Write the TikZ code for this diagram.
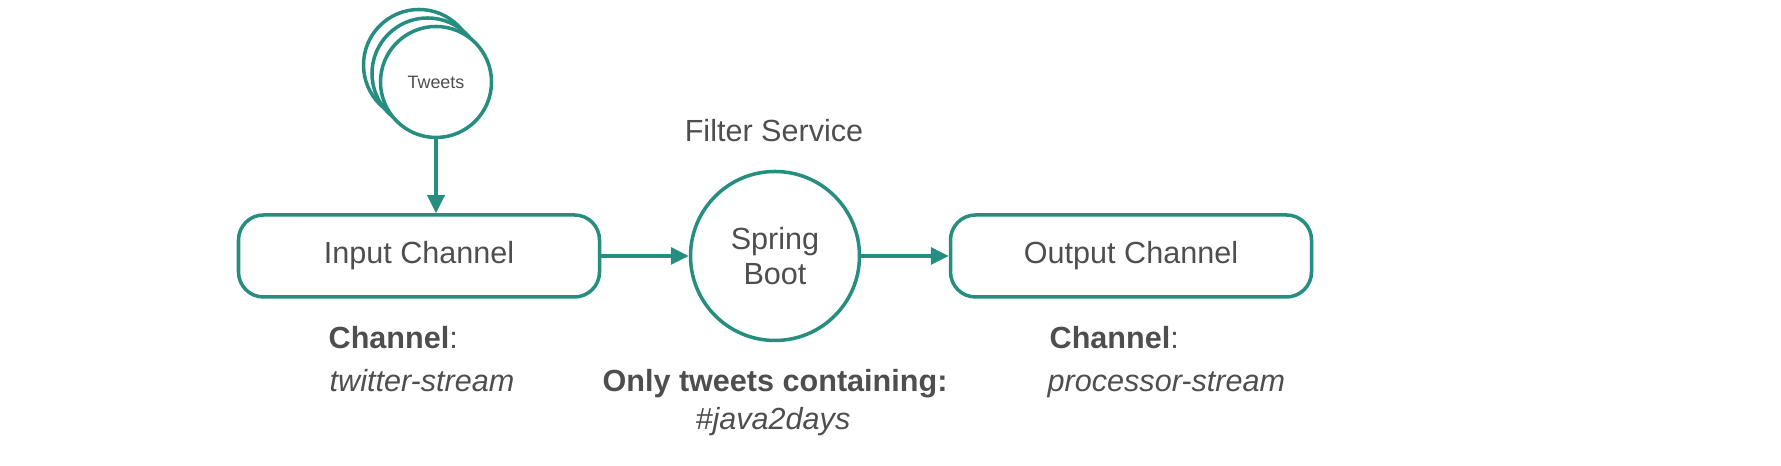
\documentclass[tikz,border=0pt]{standalone}
\usepackage{fontspec}
\setmainfont{Liberation Sans}
\usetikzlibrary{arrows.meta}
\definecolor{T}{RGB}{38, 142, 128}
\definecolor{Gr}{RGB}{78, 78, 78}

\begin{document}
\begin{tikzpicture}[
   caja/.style={draw=T, line width=1pt, rounded corners=0.25cm, minimum width=3.61cm, minimum height=0.82cm, text=Gr, font=\fontsize{8.7}{10}\selectfont},
   bola/.style={circle, draw=T, line width=1pt, fill=white, inner sep=0pt, text=Gr},
   flecha/.style={draw=T, line width=1pt, -{Triangle[length=0.18cm, width=0.17cm]}},
   texto/.style={text=Gr, inner sep=0pt, font=\fontsize{8.7}{10}\selectfont}
]
   	\useasboundingbox (0,0) rectangle (17.81,4.66);

	%Los tweets (tres circulos, el de adelante al final)
   	\node[bola, minimum size=1.11cm] (tw3) at (4.19,4.01) {};
   	\node[bola, minimum size=1.11cm] (tw2) at (4.275,3.925) {};
   	\node[bola, minimum size=1.11cm, font=\fontsize{5.1}{6}\selectfont] (tw1) at (4.36,3.84) {Tweets};

	%Canal de entrada
   	\node[caja] (entrada) at (4.19,2.10) {Input Channel};

	%Servicio de filtro
   	\node[bola, minimum size=1.69cm, align=center, font=\fontsize{8.7}{10}\selectfont] (spring) at (7.75,2.10) {Spring\\Boot};
   	\node[texto, anchor=base] (filtro) at (7.74,3.24) {Filter Service};

	%Canal de salida
   	\node[caja] (salida) at (11.31,2.10) {Output Channel};

	%Flechas
   	\draw[flecha] (tw1.south) -- (tw1.south |- entrada.north);
   	\draw[flecha] (entrada.east) -- (spring.west);
   	\draw[flecha] (spring.east) -- (salida.west);

	%Etiquetas de abajo
   	\node[texto, anchor=base west] (canalA) at (3.28,1.17) {\textbf{Channel}:};
   	\node[texto, anchor=base west] (nomA) at (3.29,0.74) {\textit{twitter-stream}};
   	\node[texto, anchor=base] (solo) at (7.75,0.74) {\textbf{Only tweets containing:}};
   	\node[texto, anchor=base] (hash) at (7.73,0.36) {\textit{\#java2days}};
   	\node[texto, anchor=base west] (canalB) at (10.49,1.17) {\textbf{Channel}:};
   	\node[texto, anchor=base west] (nomB) at (10.47,0.74) {\textit{processor-stream}};
 \end{tikzpicture}
\end{document}
